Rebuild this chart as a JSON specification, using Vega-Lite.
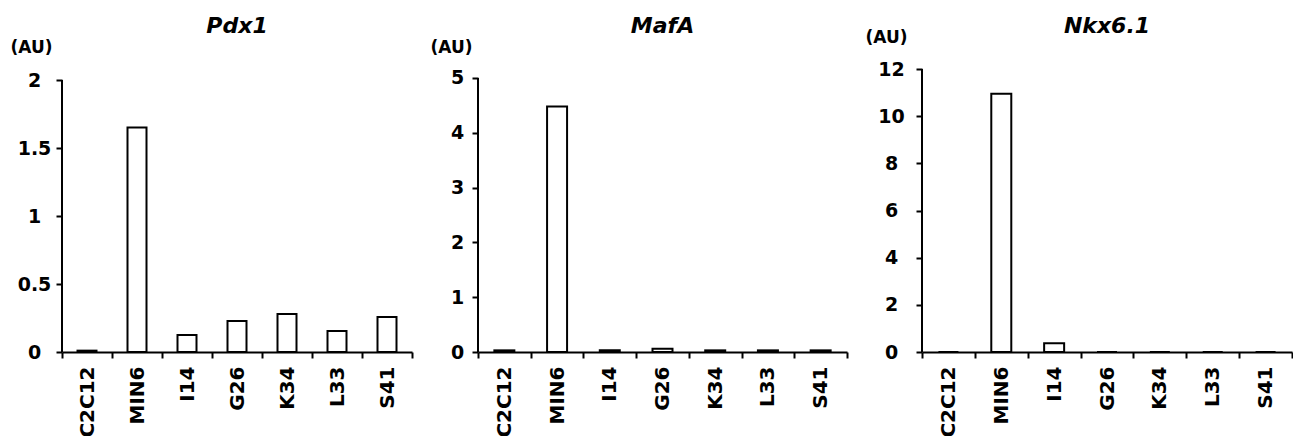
{
  "$schema": "https://vega.github.io/schema/vega-lite/v6.json",
  "padding": {"left": 10, "top": 15, "right": 0, "bottom": 0},
  "spacing": 17,
  "config": {
    "font": "DejaVu Sans",
    "view": {"stroke": null},
    "axis": {
      "domainColor": "black", "domainWidth": 2, "tickColor": "black", "tickWidth": 2, "tickSize": 6,
      "labelFont": "DejaVu Sans", "labelFontWeight": "bold", "labelColor": "black", "grid": false,
      "titleFont": "DejaVu Sans", "titleFontWeight": "bold", "titleColor": "black"
    },
    "title": {"font": "DejaVu Sans", "fontStyle": "italic", "fontWeight": "bold", "fontSize": 22, "color": "black", "anchor": "middle", "frame": "group"}
  },
  "datasets": {
    "expr": [
      {"gene": "Pdx1", "cell": "C2C12", "value": 0.01},
      {"gene": "Pdx1", "cell": "MIN6", "value": 1.65},
      {"gene": "Pdx1", "cell": "I14", "value": 0.125},
      {"gene": "Pdx1", "cell": "G26", "value": 0.228},
      {"gene": "Pdx1", "cell": "K34", "value": 0.28},
      {"gene": "Pdx1", "cell": "L33", "value": 0.155},
      {"gene": "Pdx1", "cell": "S41", "value": 0.257},
      {"gene": "MafA", "cell": "C2C12", "value": 0.03},
      {"gene": "MafA", "cell": "MIN6", "value": 4.48},
      {"gene": "MafA", "cell": "I14", "value": 0.03},
      {"gene": "MafA", "cell": "G26", "value": 0.06},
      {"gene": "MafA", "cell": "K34", "value": 0.03},
      {"gene": "MafA", "cell": "L33", "value": 0.03},
      {"gene": "MafA", "cell": "S41", "value": 0.03},
      {"gene": "Nkx6.1", "cell": "C2C12", "value": 0},
      {"gene": "Nkx6.1", "cell": "MIN6", "value": 10.95},
      {"gene": "Nkx6.1", "cell": "I14", "value": 0.37},
      {"gene": "Nkx6.1", "cell": "G26", "value": 0},
      {"gene": "Nkx6.1", "cell": "K34", "value": 0},
      {"gene": "Nkx6.1", "cell": "L33", "value": 0},
      {"gene": "Nkx6.1", "cell": "S41", "value": 0}
    ]
  },
  "hconcat": [
    {
      "width": 350, "height": 283,
      "title": {"text": "Pdx1", "offset": 0},
      "data": {"name": "expr"},
      "transform": [{"filter": "datum.gene === 'Pdx1'"}],
      "layer": [
        {
          "mark": {"type": "bar", "fill": "white", "stroke": "black", "strokeWidth": 2, "size": 19},
          "encoding": {
            "x": {"field": "cell", "type": "nominal", "sort": ["C2C12", "MIN6", "I14", "G26", "K34", "L33", "S41"],
              "scale": {"paddingInner": 0, "paddingOuter": 0},
              "axis": {"title": null, "labelAngle": 270, "labelAlign": "right", "labelBaseline": "middle", "labelFontSize": 20, "labelPadding": 8, "tickBand": "extent"}},
            "y": {"field": "value", "type": "quantitative", "scale": {"domain": [0, 2.081], "nice": false},
              "axis": {"values": [0, 0.5, 1, 1.5, 2], "format": "~g", "domain": false, "labelAlign": "center", "labelBaseline": "middle", "labelPadding": 22, "labelFontSize": 19, "labelFlush": false,
                "title": "(AU)", "titleAngle": 0, "titleAlign": "right", "titleBaseline": "middle", "titleX": -10, "titleY": -22, "titleFontSize": 17}}
          }
        },
        {
          "mark": {"type": "rule", "color": "black", "strokeWidth": 2},
          "encoding": {"x": {"datum": "C2C12", "bandPosition": 0}, "y": {"datum": 0}, "y2": {"datum": 2}}
        }
      ]
    },
    {
      "width": 369, "height": 283,
      "title": {"text": "MafA", "offset": 0},
      "data": {"name": "expr"},
      "transform": [{"filter": "datum.gene === 'MafA'"}],
      "layer": [
        {
          "mark": {"type": "bar", "fill": "white", "stroke": "black", "strokeWidth": 2, "size": 20},
          "encoding": {
            "x": {"field": "cell", "type": "nominal", "sort": ["C2C12", "MIN6", "I14", "G26", "K34", "L33", "S41"],
              "scale": {"paddingInner": 0, "paddingOuter": 0},
              "axis": {"title": null, "labelAngle": 270, "labelAlign": "right", "labelBaseline": "middle", "labelFontSize": 20, "labelPadding": 8, "tickBand": "extent"}},
            "y": {"field": "value", "type": "quantitative", "scale": {"domain": [0, 5.164], "nice": false},
              "axis": {"values": [0, 1, 2, 3, 4, 5], "format": "~g", "domain": false, "labelAlign": "center", "labelBaseline": "middle", "labelPadding": 15, "labelFontSize": 19, "labelFlush": false,
                "title": "(AU)", "titleAngle": 0, "titleAlign": "right", "titleBaseline": "middle", "titleX": -6, "titleY": -22, "titleFontSize": 17}}
          }
        },
        {
          "mark": {"type": "rule", "color": "black", "strokeWidth": 2},
          "encoding": {"x": {"datum": "C2C12", "bandPosition": 0}, "y": {"datum": 0}, "y2": {"datum": 5}}
        }
      ]
    },
    {
      "width": 370, "height": 283,
      "title": {"text": "Nkx6.1", "offset": -10},
      "data": {"name": "expr"},
      "transform": [{"filter": "datum.gene === 'Nkx6.1'"}],
      "layer": [
        {
          "mark": {"type": "bar", "fill": "white", "stroke": "black", "strokeWidth": 2, "size": 20},
          "encoding": {
            "x": {"field": "cell", "type": "nominal", "sort": ["C2C12", "MIN6", "I14", "G26", "K34", "L33", "S41"],
              "scale": {"paddingInner": 0, "paddingOuter": 0},
              "axis": {"title": null, "labelAngle": 270, "labelAlign": "right", "labelBaseline": "middle", "labelFontSize": 20, "labelPadding": 8, "tickBand": "extent"}},
            "y": {"field": "value", "type": "quantitative", "scale": {"domain": [0, 12], "nice": false},
              "axis": {"values": [0, 2, 4, 6, 8, 10, 12], "format": "~g", "domain": false, "labelAlign": "center", "labelBaseline": "middle", "labelPadding": 25, "labelFontSize": 19, "labelFlush": false,
                "title": "(AU)", "titleAngle": 0, "titleAlign": "right", "titleBaseline": "middle", "titleX": -15, "titleY": -32, "titleFontSize": 17}}
          }
        },
        {
          "mark": {"type": "rule", "color": "black", "strokeWidth": 2},
          "encoding": {"x": {"datum": "C2C12", "bandPosition": 0}, "y": {"datum": 0}, "y2": {"datum": 12}}
        }
      ]
    }
  ]
}
